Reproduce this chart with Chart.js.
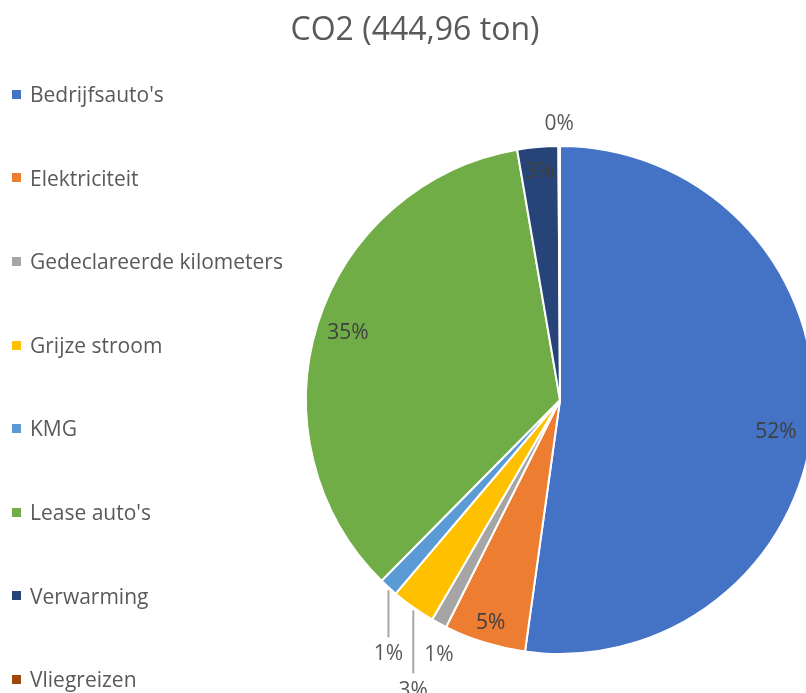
<!DOCTYPE html>
<html>
<head>
<meta charset="utf-8">
<script src="https://cdn.jsdelivr.net/npm/chart.js@4"></script>
<style>
  body { margin: 0; overflow: hidden; background: #fff; font-family: 'Open Sans', sans-serif; }
  #wrap { position: relative; width: 830px; height: 693px; }
  #title { position: absolute; left: 0; width: 830px; top: 6px; text-align: center; font-size: 32px; color: #595959; }
  #title span { position: relative; left: 0px; }
  #legend { position: absolute; left: 0; top: 0; }
  .legend-item { position: absolute; left: 12px; white-space: nowrap; font-size: 21px; color: #595959; line-height: 24px; }
  .legend-item i { display: inline-block; width: 9px; height: 9px; margin-right: 9px; vertical-align: middle; position: relative; top: -2px; }
</style>
</head>
<body>
<div id="wrap">
  <canvas id="pie" width="830" height="693"></canvas>
  <div id="title"><span>CO2 (444,96 ton)</span></div>
  <div id="legend"></div>
</div>
<script>
const categories = ["Bedrijfsauto's", 'Elektriciteit', 'Gedeclareerde kilometers', 'Grijze stroom', 'KMG', "Lease auto's", 'Verwarming', 'Vliegreizen'];
const shares = [52.2, 5.2, 1.0, 2.8, 1.2, 34.9, 2.6, 0.1];
const colors = ['#4472C4', '#ED7D31', '#A5A5A5', '#FFC000', '#5B9BD5', '#70AD47', '#264478', '#9E480E'];

// label placement: inside labels sit at a fraction of the radius,
// outside ones drop straight down (or up) from the slice edge
const insideRadius = [0.86, 0.92, null, null, null, 0.875, 0.9, null];
const angleShift = [4.6, 0, 0, 0, 0, 0, 0, 0];
const outsideDrop = [null, null, 32, 84, 67, null, null, -22];
const leaderLength = [0, 0, 0, 63, 47, 0, 0, 0];

const legendDiv = document.getElementById('legend');
categories.forEach((name, i) => {
  const item = document.createElement('div');
  item.className = 'legend-item';
  item.style.top = (82 + i * 83.6) + 'px';
  const box = document.createElement('i');
  box.style.background = colors[i];
  item.appendChild(box);
  item.appendChild(document.createTextNode(name));
  legendDiv.appendChild(item);
});

const pctLabels = {
  id: 'pctLabels',
  afterDatasetsDraw(chart) {
    const ctx = chart.ctx;
    const total = shares.reduce((a, b) => a + b, 0);
    const arcs = chart.getDatasetMeta(0).data;
    ctx.save();
    ctx.font = "21px 'Open Sans', sans-serif";
    ctx.textAlign = 'center';
    ctx.textBaseline = 'middle';
    arcs.forEach((arc, i) => {
      const p = arc.getProps(['x', 'y', 'startAngle', 'endAngle', 'outerRadius']);
      const mid = (p.startAngle + p.endAngle) / 2 + angleShift[i] * Math.PI / 180;
      const text = Math.round(shares[i] / total * 100) + '%';
      if (insideRadius[i] !== null) {
        const r = p.outerRadius * insideRadius[i];
        ctx.fillStyle = '#404040';
        ctx.fillText(text, p.x + Math.cos(mid) * r, p.y + Math.sin(mid) * r);
      } else {
        const ex = p.x + Math.cos(mid) * p.outerRadius;
        const ey = p.y + Math.sin(mid) * p.outerRadius;
        if (leaderLength[i] > 0) {
          ctx.strokeStyle = '#A6A6A6';
          ctx.lineWidth = 2;
          ctx.beginPath();
          ctx.moveTo(ex, ey + 3);
          ctx.lineTo(ex, ey + 3 + leaderLength[i]);
          ctx.stroke();
        }
        ctx.fillStyle = '#595959';
        ctx.fillText(text, ex, ey + outsideDrop[i]);
      }
    });
    ctx.restore();
  }
};

new Chart(document.getElementById('pie'), {
  type: 'pie',
  data: {
    labels: categories,
    datasets: [{
      data: shares,
      backgroundColor: colors,
      borderColor: '#ffffff',
      borderWidth: 2
    }]
  },
  options: {
    responsive: false,
    animation: false,
    layout: { padding: { left: 305, right: 15, top: 144, bottom: 37 } },
    plugins: {
      legend: { display: false },
      title: { display: false },
      tooltip: { enabled: false }
    }
  },
  plugins: [pctLabels]
});
</script>
</body>
</html>
